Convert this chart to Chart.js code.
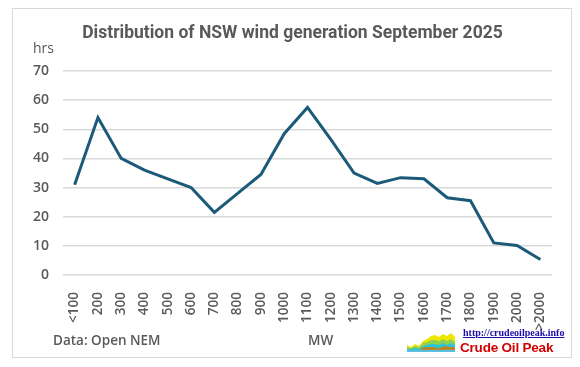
<!DOCTYPE html>
<html>
<head>
<meta charset="utf-8">
<script src="https://cdn.jsdelivr.net/npm/chart.js@4/dist/chart.umd.min.js"></script>
<style>
  html, body { margin: 0; padding: 0; background: #fff; }
  #wrap { position: relative; width: 580px; height: 367px; overflow: hidden; }
  #frame { position: absolute; left: 12px; top: 8px; width: 560px; height: 350px;
           box-sizing: border-box; border: 1.5px solid #d9d9d9; }
  #chart { position: absolute; left: 0; top: 0; }
  #title { position: absolute; left: 0; width: 585px; top: 21px; text-align: center; color: #595959;
           font-family: "Liberation Sans Narrow", "Roboto", sans-serif; font-weight: bold;
           font-size: 17.5px; line-height: 22px; white-space: nowrap; }
  .note { position: absolute; color: #595959; font-family: "Open Sans", sans-serif;
          font-weight: 600; font-size: 13.5px; line-height: 16px; white-space: nowrap; }
  #logo { position: absolute; left: 407px; top: 331px; }
  #link { position: absolute; left: 463px; top: 327px; font-family: "Liberation Serif", serif;
          font-weight: bold; font-size: 10px; color: #1a0dab; text-decoration: underline; }
  #brand { position: absolute; left: 460px; top: 340px; font-family: "Liberation Sans", Arial, sans-serif;
           font-weight: bold; font-size: 13.5px; color: #d40000; letter-spacing: -0.2px; }
</style>
</head>
<body>
<div id="wrap">
  <div id="frame"></div>
  <canvas id="chart" width="580" height="367"></canvas>
  <div id="title">Distribution of NSW wind generation September 2025</div>
  <div class="note" style="left:33px; top:40px; font-weight:500; font-size:14px;">hrs</div>
  <div class="note" style="left:53px; top:332px;">Data: Open NEM</div>
  <div class="note" style="left:308px; top:332px;">MW</div>
  <svg id="logo" width="50" height="21" viewBox="0 0 50 21">
    <path d="M0 21 L0 14 L4 16 L8 13 L12 15 L16 10 L20 8 L24 5 L28 4 L32 6 L36 3 L40 5 L44 2 L48 6 L48 21 Z" fill="#f2e600"/>
    <path d="M0 21 L0 16 L4 17 L8 15 L12 16 L16 12 L20 11 L24 9 L28 9 L32 10 L36 8 L40 10 L44 8 L48 11 L48 21 Z" fill="#8ed14f"/>
    <path d="M0 21 L0 18 L4 18 L8 17 L12 18 L16 15 L20 14 L24 13 L28 13 L32 14 L36 12 L40 14 L44 12 L48 14 L48 21 Z" fill="#2cc4d8"/>
    <path d="M14 21 L14 17 L20 16 L26 16 L32 17 L38 15 L44 16 L48 16 L48 21 Z" fill="#b8862b"/>
    <path d="M0 21 L0 19 L48 19 L48 21 Z" fill="#5bc0de"/>
  </svg>
  <div id="link">http://crudeoilpeak.info</div>
  <div id="brand">Crude Oil Peak</div>
</div>
<script>
const categories = ['<100', '200', '300', '400', '500', '600', '700', '800', '900', '1000',
  '1100', '1200', '1300', '1400', '1500', '1600', '1700', '1800', '1900', '2000', '>2000'];
const hours = [31, 54, 40, 36, 33, 30, 21.5, 28, 34.5, 48.5,
  57.5, 46.5, 35, 31.4, 33.4, 33, 26.5, 25.5, 11, 10.1, 5.3];
const yMin = 0;
const yMax = 70;
const yStep = 10;

const grey = '#595959';
const gridGrey = '#d9d9d9';
const lineBlue = '#1b5a78';

new Chart(document.getElementById('chart'), {
  type: 'line',
  data: {
    labels: categories,
    datasets: [{
      label: 'hrs',
      data: hours,
      borderColor: lineBlue,
      backgroundColor: lineBlue,
      borderWidth: 3,
      pointRadius: 0,
      tension: 0
    }]
  },
  options: {
    responsive: false,
    devicePixelRatio: 1,
    animation: false,
    layout: { padding: { left: 0, right: 28, top: 71, bottom: 0 } },
    plugins: {
      legend: { display: false },
      tooltip: { enabled: false },
      title: { display: false }
    },
    scales: {
      x: {
        offset: true,
        grid: { display: false },
        border: { display: false },
        ticks: {
          color: grey,
          autoSkip: false,
          maxRotation: 90,
          minRotation: 90,
          padding: 9,
          font: { family: '"Open Sans", sans-serif', size: 13.5, weight: '600' }
        },
        afterFit: (s) => { s.height = 92; }
      },
      y: {
        min: yMin,
        max: yMax,
        grid: { color: gridGrey, lineWidth: 1.5, drawTicks: false },
        border: { display: false },
        ticks: {
          stepSize: yStep,
          color: grey,
          padding: 14,
          font: { family: '"Open Sans", sans-serif', size: 14, weight: '600' }
        },
        afterFit: (s) => { s.width = 63; }
      }
    }
  }
});
</script>
</body>
</html>
